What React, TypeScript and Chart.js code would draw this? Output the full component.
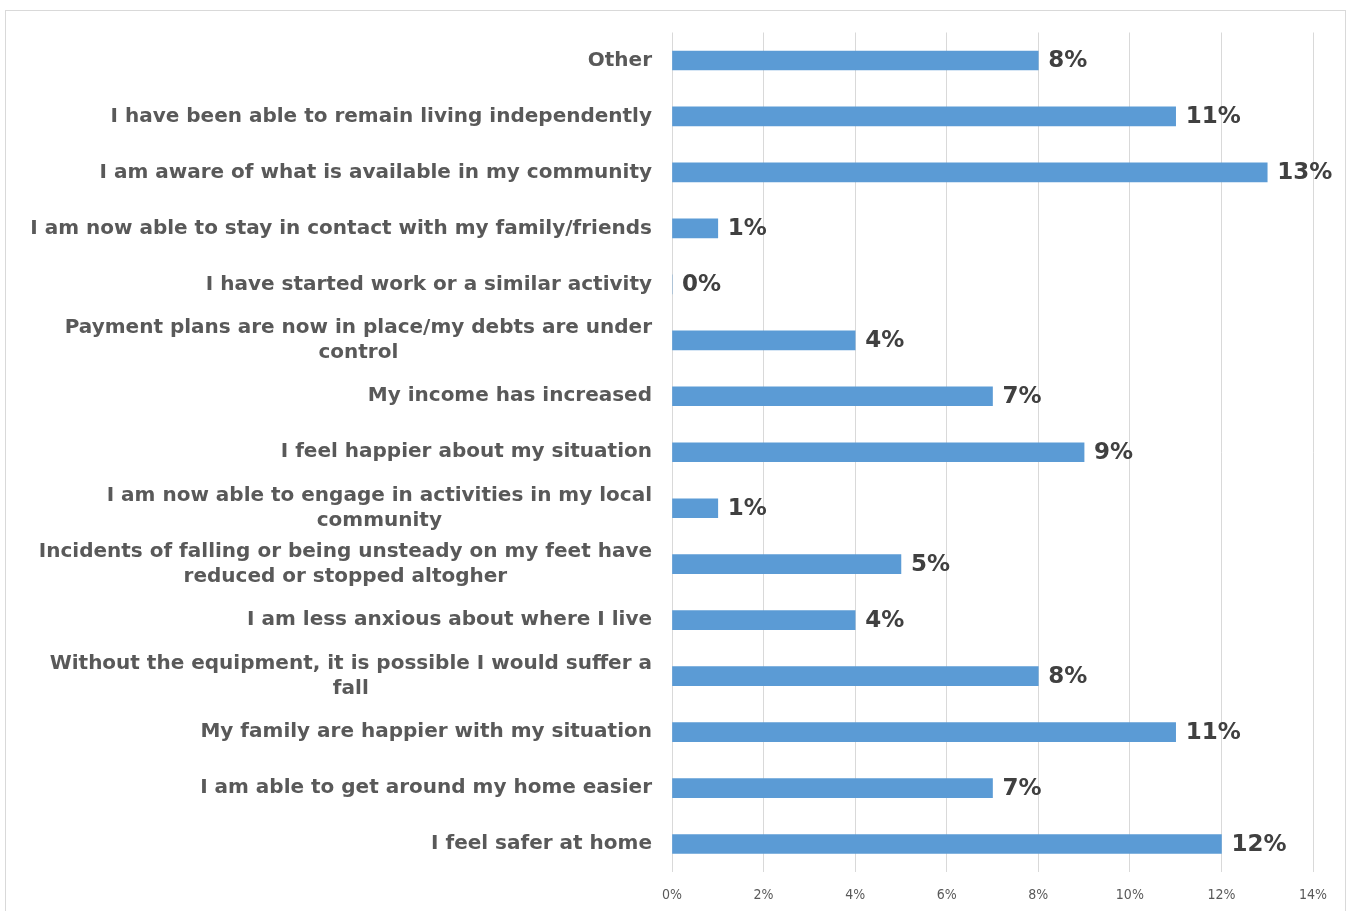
import React, { useEffect, useRef } from "react";
import { Chart, registerables } from "chart.js";

Chart.register(...registerables);

const categories: (string | string[])[] = [
  "Other",
  "I have been able to remain living independently",
  "I am aware of what is available in my community",
  "I am now able to stay in contact with my family/friends",
  "I have started work or a similar activity",
  ["Payment plans are now in place/my debts are under", "control"],
  "My income has increased",
  "I feel happier about my situation",
  ["I am now able to engage in activities in my local", "community"],
  ["Incidents of falling or being unsteady on my feet have", "reduced or stopped altogher"],
  "I am less anxious about where I live",
  ["Without the equipment, it is possible I would suffer a", "fall"],
  "My family are happier with my situation",
  "I am able to get around my home easier",
  "I feel safer at home",
];

const values: number[] = [8, 11, 13, 1, 0, 4, 7, 9, 1, 5, 4, 8, 11, 7, 12];

const xTicks: number[] = [0, 2, 4, 6, 8, 10, 12, 14];

const dataLabelPlugin = {
  id: "dataLabels",
  afterDatasetsDraw(chart: any) {
    const ctx = chart.ctx;
    const meta = chart.getDatasetMeta(0);
    ctx.save();
    ctx.font = "bold 23px 'DejaVu Sans'";
    ctx.fillStyle = "#404040";
    ctx.textAlign = "left";
    ctx.textBaseline = "middle";
    meta.data.forEach((bar: any, i: number) => {
      ctx.fillText(values[i] + "%", bar.x + 10, bar.y + 1);
    });
    ctx.restore();
  },
};

const categoryLabelPlugin = {
  id: "categoryLabels",
  afterDraw(chart: any) {
    const ctx = chart.ctx;
    const yScale = chart.scales.y;
    const right = chart.chartArea.left - 20;
    const lineH = 25;
    ctx.save();
    ctx.font = "bold 20px 'DejaVu Sans'";
    ctx.fillStyle = "#595959";
    ctx.textBaseline = "middle";
    categories.forEach((lab, i) => {
      const lines = Array.isArray(lab) ? lab : [lab];
      const y = yScale.getPixelForTick(i);
      const maxW = Math.max(...lines.map((l) => ctx.measureText(l).width));
      const cx = right - maxW / 2;
      const top = y - ((lines.length - 1) * lineH) / 2;
      lines.forEach((l, j) => {
        if (lines.length === 1) {
          ctx.textAlign = "right";
          ctx.fillText(l, right, top + j * lineH);
        } else {
          ctx.textAlign = "center";
          ctx.fillText(l, cx, top + j * lineH);
        }
      });
    });
    ctx.restore();
  },
};

export default function App() {
  const ref = useRef<HTMLCanvasElement>(null);

  useEffect(() => {
    if (!ref.current) return;
    const chart = new Chart(ref.current, {
      type: "bar",
      data: {
        labels: categories,
        datasets: [
          {
            data: values,
            backgroundColor: "#5b9bd5",
            borderWidth: 0,
            barThickness: 19,
          },
        ],
      },
      options: {
        indexAxis: "y",
        responsive: false,
        animation: false,
        layout: { padding: { top: 30, right: 38, left: 0, bottom: 0 } },
        plugins: {
          legend: { display: false },
          tooltip: { enabled: false },
        },
        scales: {
          x: {
            min: 0,
            max: 14,
            afterBuildTicks(scale: any) {
              scale.ticks = xTicks.map((v) => ({ value: v }));
            },
            afterFit(scale: any) {
              scale.height = 39;
            },
            grid: { color: "#d9d9d9", lineWidth: 1, drawTicks: false },
            border: { display: false },
            ticks: {
              padding: 15,
              color: "#595959",
              font: { family: "'DejaVu Sans Condensed', 'DejaVu Sans'", size: 14 },
              callback: (v: any) => v + "%",
            },
          },
          y: {
            afterFit(scale: any) {
              scale.width = 672;
            },
            grid: { display: false, drawTicks: false },
            border: { display: false },
            ticks: {
              padding: 20,
              color: "rgba(0,0,0,0)",
              font: { family: "'DejaVu Sans'", size: 20, weight: "bold", lineHeight: 1.25 },
            },
          },
        },
      },
      plugins: [dataLabelPlugin, categoryLabelPlugin],
    } as any);
    return () => chart.destroy();
  }, []);

  return (
    <div style={{ position: "absolute", left: 0, top: 0, width: 1351, height: 911, background: "#fff", overflow: "hidden" }}>
      <div
        style={{
          position: "absolute",
          left: 5,
          top: 10,
          width: 1341,
          height: 920,
          border: "1px solid #d9d9d9",
          boxSizing: "border-box",
        }}
      />
      <canvas ref={ref} width={1351} height={911} style={{ position: "absolute", left: 0, top: 0 }} />
    </div>
  );
}
